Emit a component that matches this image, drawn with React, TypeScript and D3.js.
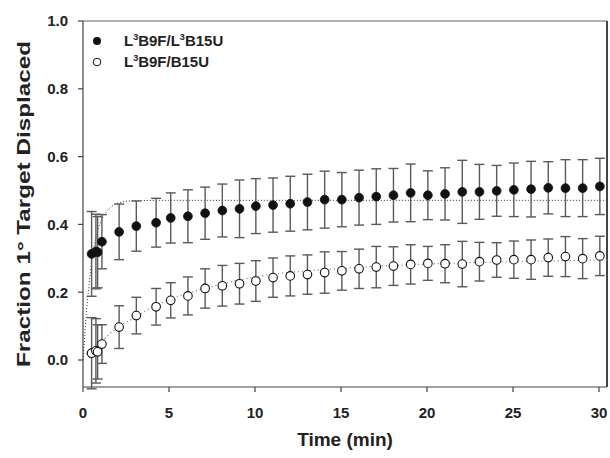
import React from "react";
import * as d3 from "d3";

const time = [0.5, 0.75, 0.85, 1.1, 2.1, 3.1, 4.25, 5.1, 6.1, 7.1, 8.1, 9.1,
  10.05, 11.05, 12.05, 13.05, 14.05, 15.05, 16.05, 17.05, 18.05, 19.05, 20.05,
  21.05, 22.05, 23.05, 24.05, 25.05, 26.05, 27.05, 28.05, 29.05, 30.05];

const seriesNames = ["L3B9F/L3B15U", "L3B9F/B15U"];

const filledValues = [0.313, 0.32, 0.318, 0.349, 0.378, 0.395, 0.405, 0.419, 0.424, 0.433, 0.441, 0.446,
  0.454, 0.457, 0.461, 0.466, 0.473, 0.473, 0.479, 0.482, 0.486, 0.493, 0.486,
  0.49, 0.496, 0.496, 0.499, 0.502, 0.504, 0.508, 0.507, 0.507, 0.512];
const filledErrors = [0.125, 0.11, 0.105, 0.08, 0.082, 0.074, 0.072, 0.074, 0.078, 0.077, 0.078, 0.085,
  0.081, 0.08, 0.081, 0.082, 0.084, 0.08, 0.081, 0.082, 0.079, 0.085, 0.072,
  0.077, 0.093, 0.081, 0.075, 0.079, 0.082, 0.077, 0.084, 0.084, 0.083];

const openValues = [0.02, 0.027, 0.024, 0.047, 0.097, 0.131, 0.157, 0.176, 0.189, 0.211, 0.219, 0.225,
  0.233, 0.243, 0.248, 0.252, 0.258, 0.263, 0.269, 0.274, 0.277, 0.282, 0.285,
  0.284, 0.283, 0.29, 0.295, 0.296, 0.296, 0.302, 0.305, 0.299, 0.307];
const openErrors = [0.105, 0.095, 0.08, 0.057, 0.063, 0.054, 0.054, 0.052, 0.056, 0.058, 0.06, 0.06,
  0.06, 0.058, 0.059, 0.058, 0.061, 0.057, 0.058, 0.061, 0.057, 0.058, 0.05,
  0.056, 0.067, 0.057, 0.051, 0.055, 0.058, 0.055, 0.059, 0.059, 0.058];

const filledFitT = [0, 0.1, 0.2, 0.35, 0.5, 0.7, 0.9, 1.2, 1.6, 2.2, 3, 5, 30.5];
const filledFitY = [0, 0.07, 0.14, 0.22, 0.29, 0.35, 0.39, 0.425, 0.45, 0.465, 0.47, 0.471, 0.471];

const openFitT = [0, 0.5, 1, 1.5, 2, 3, 4, 5, 7, 10, 15, 20, 25, 30.5];
const openFitY = [0.01, 0.03, 0.05, 0.075, 0.095, 0.125, 0.155, 0.178, 0.21, 0.245, 0.27, 0.283, 0.29, 0.295];

const xTicks = [0, 5, 10, 15, 20, 25, 30];
const yTicks = [0, 0.2, 0.4, 0.6, 0.8, 1.0];

const W = 610, H = 458;
const L = 83, R = 607, T = 21, B = 387;
const FONT = "'Liberation Sans', Arial, sans-serif";

export default function App() {
  const x = d3.scaleLinear().domain([0, 30.5]).range([L, L + (30.5 / 30) * 516]);
  const y = d3.scaleLinear().domain([0, 1]).range([360, T]);

  const line = d3.line<[number, number]>().x(d => x(d[0])).y(d => y(d[1])).curve(d3.curveMonotoneX);
  const filledFit = line(filledFitT.map((t, i) => [t, filledFitY[i]]) as [number, number][]);
  const openFit = line(openFitT.map((t, i) => [t, openFitY[i]]) as [number, number][]);

  const errBars = (vals: number[], errs: number[], key: string) =>
    time.map((t, i) => {
      const cx = x(t);
      const y1 = y(vals[i] + errs[i]);
      const y2 = y(vals[i] - errs[i]);
      return (
        <g key={key + i} stroke="#5a5a5a" strokeWidth={1.4} fill="none">
          <line x1={cx} x2={cx} y1={y1} y2={y2} />
          <line x1={cx - 5} x2={cx + 5} y1={y1} y2={y1} />
          <line x1={cx - 5} x2={cx + 5} y1={y2} y2={y2} />
        </g>
      );
    });

  const label = (name: string) => {
    const parts = name.split("3");
    const out: React.ReactNode[] = [];
    parts.forEach((p, i) => {
      out.push(<tspan key={"p" + i} dy={i > 0 ? 6 : 0}>{p}</tspan>);
      if (i < parts.length - 1)
        out.push(<tspan key={"s" + i} fontSize={9} dy={-6}>3</tspan>);
    });
    return out;
  };

  return (
    <svg width={W} height={H} style={{ position: "absolute", left: 0, top: 0, background: "#fff" }}
      fontFamily={FONT}>
      <rect x={0} y={0} width={W} height={H} fill="#fff" />
      {/* frame */}
      <line x1={L} x2={R} y1={T} y2={T} stroke="#666" strokeWidth={1} />
      <line x1={R} x2={R} y1={T} y2={B} stroke="#444" strokeWidth={2} />
      <line x1={L} x2={R} y1={B} y2={B} stroke="#444" strokeWidth={1.2} />
      <line x1={L} x2={L} y1={T} y2={B} stroke="#444" strokeWidth={1.2} />

      {yTicks.map(v => (
        <g key={"yt" + v}>
          <line x1={L - 5} x2={L} y1={y(v)} y2={y(v)} stroke="#444" strokeWidth={1.2} />
          <text x={68} y={y(v)} dy="0.36em" textAnchor="end" fontSize={15} fontWeight="bold" fill="#222">
            {v.toFixed(1)}
          </text>
        </g>
      ))}
      {xTicks.map(v => (
        <g key={"xt" + v}>
          <line x1={x(v)} x2={x(v)} y1={B} y2={B + 5} stroke="#444" strokeWidth={1.2} />
          <text x={x(v)} y={418} textAnchor="middle" fontSize={15} fontWeight="bold" fill="#222">
            {v}
          </text>
        </g>
      ))}

      <text x={(L + R) / 2} y={446} textAnchor="middle" fontSize={19} fontWeight="bold" fill="#222">
        Time (min)
      </text>
      <text transform={`translate(30,${(T + B) / 2}) rotate(-90)`} textAnchor="middle" fontSize={19}
        fontWeight="bold" fill="#222" textLength={326} lengthAdjust="spacingAndGlyphs">
        Fraction 1° Target Displaced
      </text>

      {/* fits */}
      <path d={openFit ?? ""} fill="none" stroke="#999" strokeWidth={1.3} strokeDasharray="1.3 2.7" />
      <path d={filledFit ?? ""} fill="none" stroke="#333" strokeWidth={1} strokeDasharray="1 2" />

      {errBars(filledValues, filledErrors, "fe")}
      {errBars(openValues, openErrors, "oe")}

      {time.map((t, i) => (
        <circle key={"fc" + i} cx={x(t)} cy={y(filledValues[i])} r={4.4} fill="#111" stroke="#111" strokeWidth={0.8} />
      ))}
      {time.map((t, i) => (
        <circle key={"oc" + i} cx={x(t)} cy={y(openValues[i])} r={4.3} fill="#fff" stroke="#111" strokeWidth={1.1} />
      ))}

      {/* legend */}
      <circle cx={97} cy={41} r={4} fill="#111" />
      <circle cx={97} cy={62} r={3.8} fill="#fff" stroke="#111" strokeWidth={1} />
      <text x={124} y={46} fontSize={15} fontWeight="bold" fill="#222">{label(seriesNames[0])}</text>
      <text x={124} y={67} fontSize={15} fontWeight="bold" fill="#222">{label(seriesNames[1])}</text>
    </svg>
  );
}
